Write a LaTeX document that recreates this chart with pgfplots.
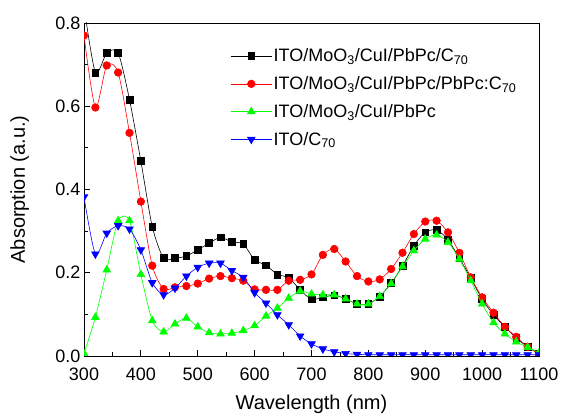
\documentclass[border=0pt]{standalone}
\usepackage{fontspec}
\setmainfont{Liberation Sans}
\usepackage{pgfplots}
\pgfplotsset{compat=1.18}

\pgfplotstableread{
x black red green blue
300 0.840 0.770 0.006 0.382
320 0.681 0.597 0.093 0.245
340 0.728 0.698 0.207 0.295
360 0.728 0.681 0.325 0.313
380 0.616 0.536 0.325 0.305
400 0.468 0.371 0.196 0.255
420 0.311 0.217 0.085 0.176
440 0.235 0.161 0.058 0.147
460 0.235 0.165 0.077 0.163
480 0.240 0.168 0.091 0.192
500 0.255 0.174 0.070 0.213
520 0.271 0.186 0.056 0.223
540 0.285 0.192 0.053 0.223
560 0.274 0.187 0.055 0.205
580 0.269 0.181 0.061 0.189
600 0.231 0.160 0.073 0.152
620 0.218 0.159 0.096 0.127
640 0.196 0.159 0.115 0.099
660 0.188 0.181 0.139 0.075
680 0.159 0.183 0.156 0.048
700 0.136 0.196 0.149 0.029
720 0.141 0.243 0.147 0.017
740 0.146 0.257 0.147 0.010
760 0.137 0.227 0.137 0.006
780 0.125 0.192 0.125 0.004
800 0.125 0.179 0.125 0.003
820 0.143 0.184 0.143 0.003
840 0.175 0.209 0.174 0.003
860 0.216 0.248 0.215 0.003
880 0.265 0.293 0.253 0.003
900 0.297 0.323 0.281 0.003
920 0.303 0.325 0.291 0.003
940 0.279 0.297 0.273 0.003
960 0.235 0.248 0.233 0.003
980 0.187 0.189 0.181 0.003
1000 0.137 0.141 0.125 0.003
1020 0.099 0.104 0.080 0.003
1040 0.070 0.070 0.053 0.003
1060 0.043 0.046 0.034 0.003
1080 0.022 0.022 0.021 0.003
1100 0.005 0.005 0.008 0.003
}\data

\begin{document}
\begin{tikzpicture}
\begin{axis}[
  scale only axis,
  width=455pt, height=333pt,
  xmin=300, xmax=1100, ymin=0, ymax=0.8,
  xtick={300,400,...,1100},
  minor xtick={350,450,...,1050},
  ytick={0,0.2,...,0.8},
  minor ytick={0.1,0.3,0.5,0.7},
  xtick pos=bottom, ytick pos=left,
  tick align=inside,
  major tick length=6pt, minor tick length=3.5pt,
  every tick/.style={black, line width=0.8pt},
  axis line style={line width=0.9pt},
  /pgf/number format/assume math mode=true,
  xticklabel style={/pgf/number format/1000 sep={}, anchor=base, yshift=-24pt},
  yticklabel style={/pgf/number format/.cd, fixed, fixed zerofill, precision=1},
  tick label style={font=\fontsize{18}{21}\selectfont},
  label style={font=\fontsize{20}{23}\selectfont},
  xlabel={Wavelength (nm)},
  ylabel={Absorption (a.u.)},
  xlabel style={at={(axis description cs:0.5,-0.1592)}, anchor=base},
  ylabel style={at={(axis description cs:-0.1297,0.5)}, anchor=base},
  clip marker paths=true,
  legend cell align=left,
  legend style={draw=none, fill=none, at={(rel axis cs:0.316,0.935)}, anchor=north west,
    font=\fontsize{18}{21}\selectfont, row sep=9.2pt,
    /tikz/every even column/.append style={column sep=2pt}},
  legend image code/.code={\draw[mark repeat=2,mark phase=2] plot coordinates {(0pt,0pt)(20pt,0pt)(40pt,0pt)};},
  every axis plot/.append style={line width=0.6pt, smooth, tension=0.45},
]
\addplot[black, mark=square*, mark size=3.4pt, mark options={solid}] table[x=x,y=black] {\data};
\addlegendentry{ITO/MoO\textsubscript{3}/CuI/PbPc/C\textsubscript{70}}
\addplot[red, mark=*, mark size=3.8pt, mark options={solid}] table[x=x,y=red] {\data};
\addlegendentry{ITO/MoO\textsubscript{3}/CuI/PbPc/PbPc:C\textsubscript{70}}
\addplot[green, mark=triangle*, mark size=4.4pt, mark options={solid}] table[x=x,y=green] {\data};
\addlegendentry{ITO/MoO\textsubscript{3}/CuI/PbPc}
\addplot[blue, mark=triangle*, mark size=4.4pt, mark options={solid, rotate=180}] table[x=x,y=blue] {\data};
\addlegendentry{ITO/C\textsubscript{70}}
\end{axis}
\pgfresetboundingbox
\useasboundingbox ([xshift=-84pt,yshift=-58pt]current axis.south west) rectangle ([xshift=22pt,yshift=23pt]current axis.north east);
\end{tikzpicture}
\end{document}
